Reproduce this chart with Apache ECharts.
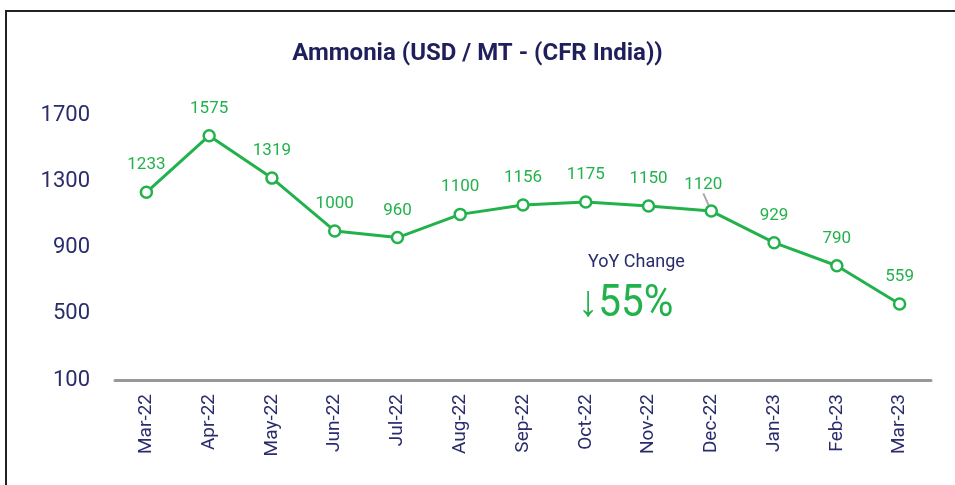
<!DOCTYPE html>
<html>
<head>
<meta charset="utf-8">
<script src="https://cdn.jsdelivr.net/npm/echarts@6/dist/echarts.min.js"></script>
<style>
  html, body { margin: 0; padding: 0; background: #fff; }
  #chart { width: 955px; height: 485px; }
</style>
</head>
<body>
<div id="chart"></div>
<script>
// monthly prices
var months = ['Mar-22', 'Apr-22', 'May-22', 'Jun-22', 'Jul-22', 'Aug-22', 'Sep-22',
  'Oct-22', 'Nov-22', 'Dec-22', 'Jan-23', 'Feb-23', 'Mar-23'];
var prices = [1233, 1575, 1319, 1000, 960, 1100, 1156, 1175, 1150, 1120, 929, 790, 559];
var yTicks = [100, 500, 900, 1300, 1700];
var yoyText = 'YoY Change';
var yoyValue = '↓55%';

var navy = '#2a2c6c';
var green = '#22b24c';
var movedLabel = 9; // Dec-22 label is pulled aside with a leader line

var chart = echarts.init(document.getElementById('chart'));

var seriesData = prices.map(function (v, i) {
  if (i === movedLabel) {
    return { value: v, labelLine: { show: true, lineStyle: { color: '#aaa', width: 2 } } };
  }
  return v;
});

chart.setOption({
  animation: false,
  title: {
    text: 'Ammonia (USD / MT - (CFR India))',
    left: 'center',
    top: 37,
    textStyle: { color: '#1f1f5c', fontSize: 24, fontWeight: 'bold', fontFamily: 'Roboto' }
  },
  grid: { left: 115, right: 24, top: 115, bottom: 105 },
  graphic: [
    // frame
    { type: 'rect', shape: { x: 6, y: 11, width: 960, height: 490 },
      style: { fill: 'none', stroke: '#222', lineWidth: 2 } },
    { type: 'text', left: 588, top: 253,
      style: { text: yoyText, fill: navy, fontSize: 18, fontFamily: 'Roboto' } },
    { type: 'text', left: 578, top: 283,
      style: { text: yoyValue, fill: green, fontSize: 44, fontFamily: 'Roboto' }, scaleX: 0.92 }
  ],
  xAxis: {
    type: 'category',
    data: months,
    boundaryGap: true,
    axisLine: { lineStyle: { color: '#999', width: 3 } },
    axisTick: { show: false },
    axisLabel: { rotate: 90, color: navy, fontSize: 19, fontFamily: 'Roboto', margin: 14 }
  },
  yAxis: {
    type: 'value',
    min: yTicks[0],
    max: yTicks[yTicks.length - 1],
    interval: 400,
    axisLine: { show: false },
    axisTick: { show: false },
    splitLine: { show: false },
    axisLabel: { color: navy, fontSize: 22, fontFamily: 'Roboto', margin: 25,
      formatter: function (v) { return String(v); } }
  },
  series: [{
    type: 'line',
    data: seriesData,
    symbol: 'circle',
    symbolSize: 11,
    lineStyle: { color: green, width: 3 },
    itemStyle: { color: '#fff', borderColor: green, borderWidth: 2.5 },
    label: {
      show: true, position: 'top', distance: 12,
      color: green, fontSize: 17, fontFamily: 'Roboto'
    },
    labelLayout: function (p) {
      return p.dataIndex === movedLabel ? { dx: -8, dy: 1 } : {};
    },
    labelLine: { show: false }
  }]
});
</script>
</body>
</html>
